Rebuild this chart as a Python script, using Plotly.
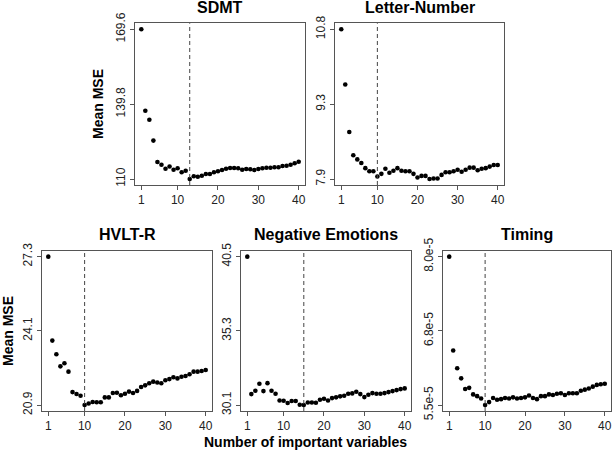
import plotly.graph_objects as go

W, H = 614, 454

x_vars = list(range(1, 41))
x_ticks = [1, 10, 20, 30, 40]

titles = ["SDMT", "Letter-Number", "HVLT-R", "Negative Emotions", "Timing"]

sdmt = [169.6, 137.2, 133.6, 125.3, 116.8, 115.7, 114.1, 115.0, 113.7, 114.3,
        112.7, 113.3, 110.0, 111.1, 110.9, 111.3, 112.0, 112.0, 112.7, 113.1,
        113.6, 114.1, 114.4, 114.4, 114.3, 113.7, 114.0, 113.9, 113.6, 114.0,
        114.3, 114.5, 114.5, 114.7, 114.7, 115.2, 115.3, 115.7, 116.3, 116.9]
letter_number = [10.76, 9.69, 8.77, 8.32, 8.24, 8.17, 8.07, 8.01, 8.01, 7.91,
                 7.96, 8.06, 7.98, 8.02, 8.07, 8.02, 8.01, 8.01, 7.96, 7.89,
                 7.92, 7.92, 7.86, 7.87, 7.87, 7.94, 7.99, 7.99, 8.01, 8.04,
                 8.00, 8.04, 8.08, 8.08, 8.03, 8.06, 8.07, 8.10, 8.13, 8.13]
hvlt_r = [27.30, 23.68, 23.09, 22.57, 22.70, 22.34, 21.46, 21.38, 21.30, 20.90,
          20.97, 21.03, 21.02, 21.02, 21.23, 21.23, 21.42, 21.43, 21.32, 21.39,
          21.48, 21.42, 21.51, 21.68, 21.75, 21.84, 21.91, 21.87, 21.84, 21.97,
          22.02, 22.10, 22.05, 22.12, 22.15, 22.23, 22.34, 22.34, 22.37, 22.41]
neg_emotions = [40.50, 30.85, 31.08, 31.58, 31.06, 31.62, 31.08, 30.87, 30.40, 30.38,
                30.22, 30.36, 30.36, 30.10, 30.08, 30.26, 30.26, 30.24, 30.45, 30.52,
                30.40, 30.57, 30.62, 30.69, 30.73, 30.87, 30.90, 31.01, 30.85, 30.64,
                30.80, 30.92, 30.87, 30.87, 30.92, 30.99, 31.06, 31.13, 31.20, 31.25]
timing = [8.02e-5, 6.44e-5, 6.14e-5, 5.97e-5, 5.79e-5, 5.81e-5, 5.70e-5, 5.67e-5, 5.63e-5, 5.52e-5,
          5.57e-5, 5.64e-5, 5.61e-5, 5.62e-5, 5.64e-5, 5.63e-5, 5.65e-5, 5.63e-5, 5.64e-5, 5.65e-5,
          5.68e-5, 5.64e-5, 5.62e-5, 5.67e-5, 5.67e-5, 5.70e-5, 5.69e-5, 5.71e-5, 5.72e-5, 5.69e-5,
          5.72e-5, 5.72e-5, 5.72e-5, 5.76e-5, 5.78e-5, 5.80e-5, 5.83e-5, 5.86e-5, 5.87e-5, 5.88e-5]

series = [sdmt, letter_number, hvlt_r, neg_emotions, timing]
cutoffs = [13, 10, 10, 15, 10]
y_tick_labels = [["110", "139.8", "169.6"],
                 ["7.9", "9.3", "10.8"],
                 ["20.9", "24.1", "27.3"],
                 ["30.1", "35.3", "40.5"],
                 ["5.5e-5", "6.8e-5", "8.0e-5"]]

# panel boxes in pixels: (left, right, top, bottom)
boxes = [(135, 305, 23.3, 185), (335, 504, 23.3, 185),
         (42, 212, 250.7, 411), (241, 411, 250.7, 411), (443, 611, 250.7, 411)]

FONT = "Liberation Sans, Arial, Helvetica, sans-serif"
fig = go.Figure()
shapes = []
annotations = []
for i, (ys, title, cut, labs, box) in enumerate(zip(series, titles, cutoffs, y_tick_labels, boxes)):
    n = i + 1
    xa = "x" if n == 1 else f"x{n}"
    ya = "y" if n == 1 else f"y{n}"
    fig.add_trace(go.Scatter(x=x_vars, y=ys, mode="markers", xaxis=xa, yaxis=ya,
                             marker=dict(color="black", size=4.6), showlegend=False,
                             hoverinfo="x+y"))
    lo, hi = min(ys), max(ys)
    span = hi - lo
    l, r, t, b = box
    xd = [l / W, r / W]
    yd = [1 - b / H, 1 - t / H]
    axis_common = dict(showgrid=False, zeroline=False, showline=True, mirror=True,
                       automargin=False,
                       linecolor="#555", linewidth=1, ticks="outside", ticklen=4,
                       tickcolor="#555", tickfont=dict(family=FONT, size=12, color="#222"))
    fig.layout[f"xaxis{'' if n == 1 else n}"] = dict(
        domain=xd, anchor=ya, range=[1 - 0.04 * 39, 40 + 0.04 * 39],
        tickvals=x_ticks, ticktext=[str(v) for v in x_ticks], **axis_common)
    fig.layout[f"yaxis{'' if n == 1 else n}"] = dict(
        domain=yd, anchor=xa, range=[lo - 0.04 * span, hi + 0.04 * span],
        tickvals=[lo, (lo + hi) / 2, hi], ticktext=labs, tickangle=-90, **axis_common)
    shapes.append(dict(type="line", xref=xa, yref=f"{ya} domain", x0=cut, x1=cut, y0=0, y1=1,
                       line=dict(color="#444", width=1, dash="4px,3px")))
    annotations.append(dict(text=f"<b>{title}</b>", x=(l + r) / 2 / W, y=1 - (t - 16) / H,
                            xref="paper", yref="paper", showarrow=False, xanchor="center",
                            yanchor="middle", font=dict(family=FONT, size=16, color="black")))

annotations.append(dict(text="<b>Mean MSE</b>", x=98 / W, y=1 - 104 / H, xref="paper", yref="paper",
                        showarrow=False, textangle=-90, xanchor="center", yanchor="middle",
                        font=dict(family=FONT, size=14, color="black")))
annotations.append(dict(text="<b>Mean MSE</b>", x=8 / W, y=1 - 331 / H, xref="paper", yref="paper",
                        showarrow=False, textangle=-90, xanchor="center", yanchor="middle",
                        font=dict(family=FONT, size=14, color="black")))
annotations.append(dict(text="<b>Number of important variables</b>", x=305 / W, y=1 - 442 / H,
                        xref="paper", yref="paper", showarrow=False, xanchor="center",
                        yanchor="middle", font=dict(family=FONT, size=14, color="black")))

fig.update_layout(width=W, height=H, margin=dict(l=0, r=0, t=0, b=0, autoexpand=False),
                  paper_bgcolor="white", plot_bgcolor="white",
                  shapes=shapes, annotations=annotations)
fig.write_html("out.html", config={"displayModeBar": False},
               post_script="document.body.style.margin='0px';"
                           "var d=document.getElementById('{plot_id}');"
                           "d.style.position='fixed';d.style.left='0px';d.style.top='0px';")
